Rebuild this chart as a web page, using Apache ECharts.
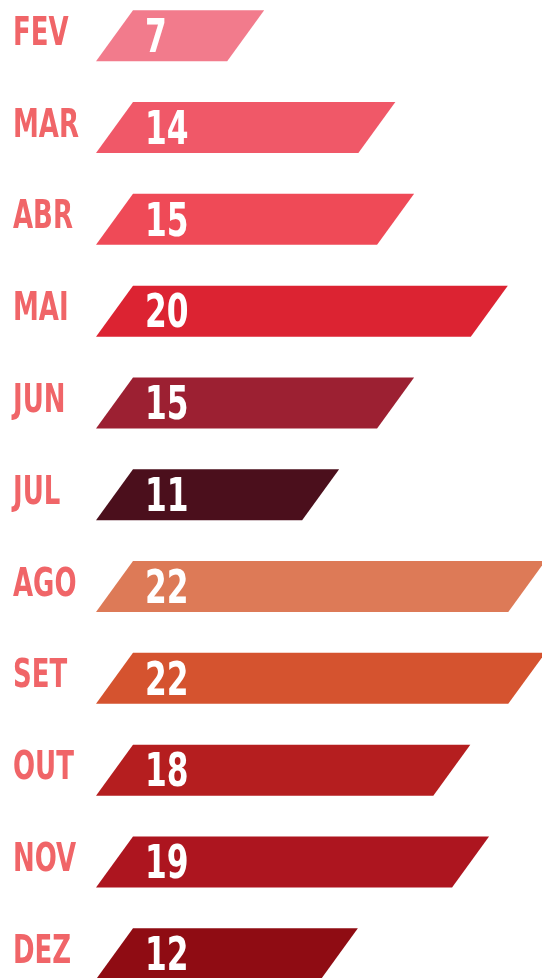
<!DOCTYPE html>
<html>
<head>
<meta charset="utf-8">
<script src="https://cdn.jsdelivr.net/npm/echarts@6/dist/echarts.min.js"></script>
<style>
  html, body { margin: 0; padding: 0; background: #fff; }
  #chart { width: 542px; height: 978px; }
</style>
</head>
<body>
<div id="chart"></div>
<script>
const months = ['FEV', 'MAR', 'ABR', 'MAI', 'JUN', 'JUL', 'AGO', 'SET', 'OUT', 'NOV', 'DEZ']
const values = [7, 14, 15, 20, 15, 11, 22, 22, 18, 19, 12]
const barColors = ['#f27b8c', '#f05868', '#ef4a57', '#dc2332', '#9c2032', '#4b0f1c',
  '#dd7a57', '#d5532f', '#b51e1f', '#ad151f', '#8f0c13']

const fontFamily = '"DejaVu Sans Condensed", "DejaVu Sans", sans-serif'
const barHeight = 51
const slant = 37
const squeeze = 0.74 // narrow the glyphs to look like a condensed face

const chart = echarts.init(document.getElementById('chart'))

// parallelogram bar: bottom edge starts at 0, top edge is shifted right
function renderBar(params, api) {
  const cat = api.value(0)
  const v = api.value(1)
  const start = api.coord([0, cat])
  const end = api.coord([v, cat])
  const top = start[1] - barHeight / 2
  const bottom = start[1] + barHeight / 2
  return {
    type: 'group',
    children: [
      {
        type: 'polygon',
        shape: {
          points: [
            [start[0], bottom],
            [end[0], bottom],
            [end[0] + slant, top],
            [start[0] + slant, top]
          ]
        },
        style: { fill: barColors[params.dataIndex] }
      },
      {
        // month name on the left
        type: 'text',
        x: 13,
        y: start[1] - 1,
        scaleX: squeeze,
        style: {
          text: months[cat],
          fill: '#f06568',
          font: 'bold 39px ' + fontFamily,
          verticalAlign: 'middle',
          align: 'left'
        }
      },
      {
        // value inside the bar
        type: 'text',
        x: start[0] + 49,
        y: start[1] + 4,
        scaleX: squeeze,
        style: {
          text: String(v),
          fill: '#fff',
          font: 'bold 47px ' + fontFamily,
          verticalAlign: 'middle',
          align: 'left'
        }
      }
    ]
  }
}

chart.setOption({
  backgroundColor: '#fff',
  animation: false,
  grid: { left: 96, right: 0, top: 35.7, bottom: 24.2 },
  xAxis: {
    type: 'value',
    min: 0,
    max: 23.8,
    show: false
  },
  yAxis: {
    type: 'category',
    data: months,
    inverse: true,
    boundaryGap: false,
    show: false
  },
  series: [
    {
      type: 'custom',
      renderItem: renderBar,
      encode: { x: 1, y: 0 },
      data: values.map((v, i) => [i, v])
    }
  ]
})
</script>
</body>
</html>
